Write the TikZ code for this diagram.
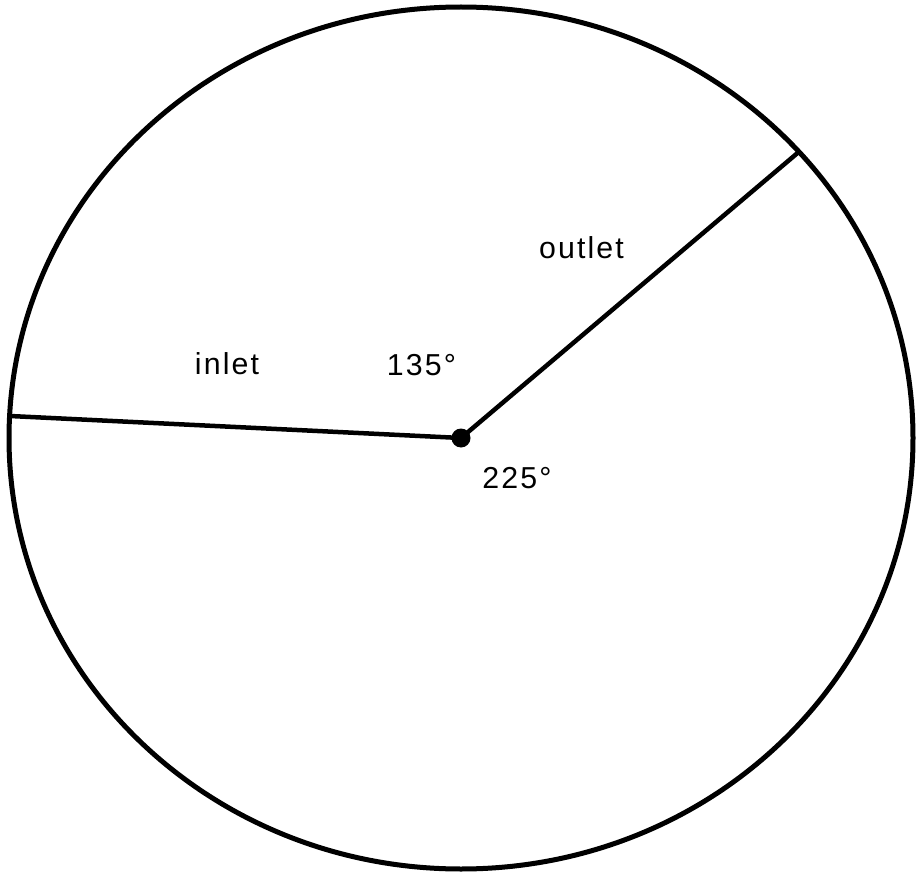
\documentclass[tikz,border=0pt]{standalone}
\usepackage{fontspec}
\setmainfont{Liberation Sans}[LetterSpace=7]
\begin{document}
\begin{tikzpicture}[x=1pt,y=-1pt,
  lbl/.style={inner sep=0pt,anchor=base,font=\fontsize{30.3}{36}\selectfont},
  rim/.style={line width=5pt},
  arm/.style={line width=4.5pt}]
\useasboundingbox (0,0) rectangle (916,872);
\coordinate (c) at (461,438);
\draw[rim] (c) ellipse [x radius=452, y radius=431];
\coordinate (in) at (10,416);
\coordinate (out) at (800.5,150.5);
\draw[arm] (in) -- (c);
\draw[arm] (c) -- (out);
\fill (c) circle (9.5);
\node[lbl] (tin) at (227,374.3) {inlet};
\node[lbl] (tout) at (581.5,258.3) {outlet};
\node[lbl] (a135) at (421.5,375) {135°};
\node[lbl] (a225) at (517,488.3) {225°};
\end{tikzpicture}
\end{document}
